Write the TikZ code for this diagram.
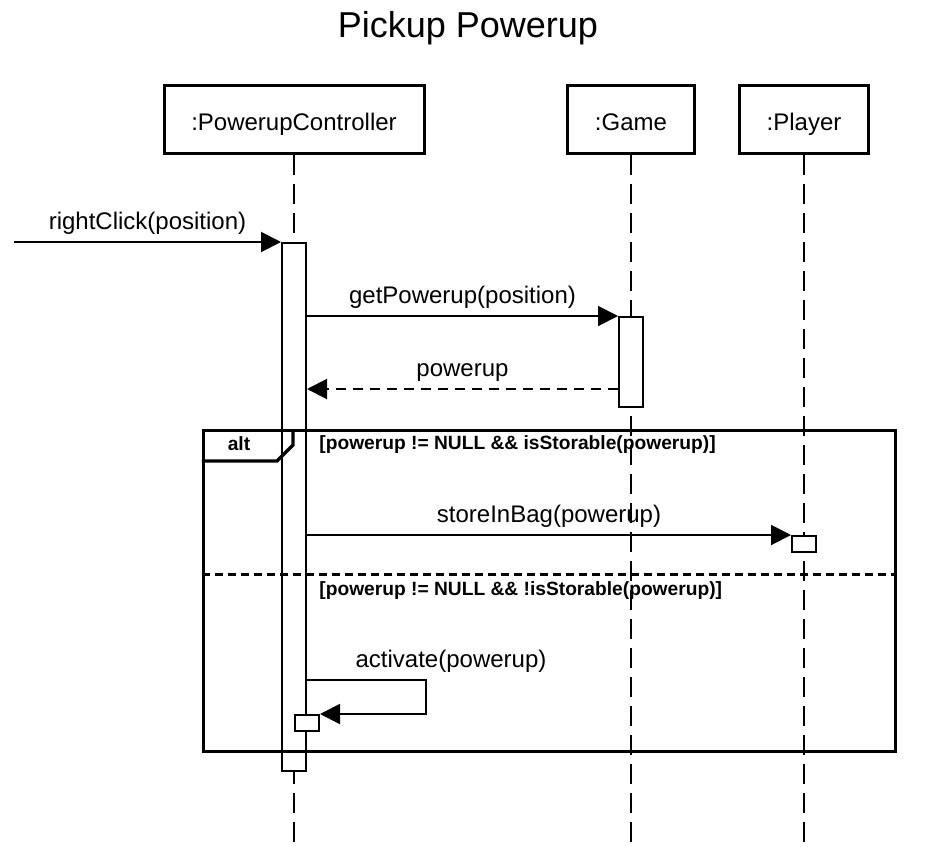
\documentclass[tikz,border=0pt]{standalone}
\usepackage{fontspec}
\setmainfont{Liberation Sans}
\usetikzlibrary{arrows.meta}
\begin{document}
\begin{tikzpicture}[x=0.5pt, y=-0.5pt,
        >={Triangle[length=10pt, width=10pt]},
        object/.style={draw, line width=1.5pt, fill=white, minimum height=34pt, text height=12.5pt, text depth=2pt, font=\fontsize{12}{14}\selectfont},
        lifeline/.style={line width=1pt, dash pattern=on 10pt off 4.5pt},
        activation/.style={draw, line width=1pt, fill=white, minimum width=12pt, inner sep=0pt},
        msg/.style={->, line width=1pt},
        reply/.style={->, line width=1pt, dash pattern=on 5pt off 3.5pt},
        msglabel/.style={font=\fontsize{12}{14}\selectfont},
        guard/.style={font=\fontsize{9.6}{11}\selectfont\bfseries, anchor=west, inner sep=0pt}]
    \useasboundingbox (0, 0) rectangle (936, 846);

    % Title
    \node[font=\fontsize{18}{22}\selectfont] (title) at (468, 28) {Pickup Powerup};

    % Objects
    \node[object, minimum width=130pt] (ctrl) at (294, 119.5) {:PowerupController};
    \node[object, minimum width=63.5pt] (game) at (631, 119.5) {:Game};
    \node[object, minimum width=64.5pt] (player) at (804, 119.5) {:Player};

    % Lifelines
    \foreach \o in {ctrl, game, player} {
        \coordinate (\o end) at (\o.south |- 0, 846);
        \draw[lifeline] (\o.south) -- (\o end);
    }

    % Activation bars
    \node[activation, minimum height=264pt] (ctrlAct) at (294, 507) {};
    \node[activation, minimum height=45pt] (gameAct) at (631, 362) {};
    \node[activation, minimum height=8pt] (playerAct) at (804, 544) {};
    \node[activation, minimum height=8pt] (selfAct) at (307, 723) {};

    % Incoming call
    \coordinate (caller) at (14, 242);
    \draw[msg] (caller) -- node[msglabel, above] {rightClick(position)} (ctrlAct.north west);

    % Ask the game
    \draw[msg] (ctrlAct.east |- gameAct.north) -- node[msglabel, above] {getPowerup(position)} (gameAct.north west);
    \coordinate (ret) at (gameAct.west |- 0, 389);
    \draw[reply] (ret) -- node[msglabel, above] {powerup} (ctrlAct.east |- ret);

    % Store in bag
    \draw[msg] (ctrlAct.east |- playerAct.north) -- node[msglabel, above] {storeInBag(powerup)} (playerAct.north west);

    % Self call
    \coordinate (loopTop) at (426, 680);
    \draw[msg] (ctrlAct.east |- loopTop) -- (loopTop) |- (selfAct.north east);
    \node[msglabel] (activateLabel) at (451, 661) {activate(powerup)};

    % alt frame
    \node[draw, line width=1.6pt, minimum width=346pt, minimum height=160.5pt, inner sep=0pt] (frame) at (549.5, 591) {};
    \draw[line width=1.6pt] (frame.west |- 0, 461) -- (277, 461) -- (293, 445) -- (293, 430.5);
    \node[font=\fontsize{9.6}{11}\selectfont\bfseries] (altlabel) at (239, 444) {alt};
    \node[guard] (guard1) at (319, 445) {[powerup != NULL \&\& isStorable(powerup)]};
    \draw[line width=1.5pt, dash pattern=on 4pt off 2.5pt] (frame.west |- 0, 574) -- (frame.east |- 0, 574);
    \node[guard] (guard2) at (319, 591) {[powerup != NULL \&\& !isStorable(powerup)]};
\end{tikzpicture}
\end{document}
